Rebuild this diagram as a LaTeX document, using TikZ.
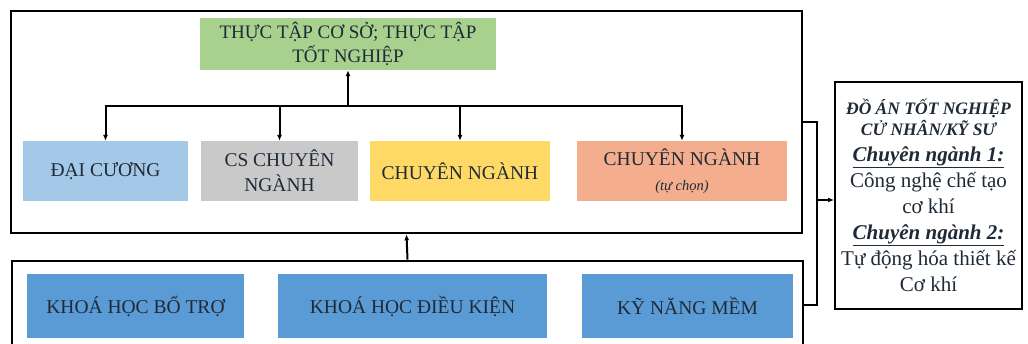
\documentclass[tikz,border=0pt]{standalone}
\usepackage{fontspec}
\setmainfont{Liberation Serif}
\usetikzlibrary{arrows.meta}
\definecolor{xanhla}{HTML}{A9D18E}
\definecolor{xanhnhat}{HTML}{A4C8E8}
\definecolor{xam}{HTML}{C9C9C9}
\definecolor{vang}{HTML}{FFD966}
\definecolor{cam}{HTML}{F4AE8E}
\definecolor{xanhdam}{HTML}{5B9BD5}
\definecolor{chu}{HTML}{1E2A36}
\newcommand{\tieude}{\fontsize{17.5}{20}\selectfont\bfseries\itshape}
\newcommand{\cnganh}[1]{\fontsize{21}{26}\selectfont\bfseries\itshape\underline{#1}}

\begin{document}
\begin{tikzpicture}[x=1pt,y=-1pt,
    khung/.style={draw,line width=2.6pt},
    hop/.style={align=center,text=chu,font=\fontsize{19.5}{25}\selectfont},
    noi/.style={line width=2pt,-{Latex[length=6pt,width=5pt]}}]
            \clip(0, 0)rectangle(1028, 344);
            \fill[white](0, 0)rectangle(1028, 344);
            % hai khung lon
            \node[khung, minimum width=791pt, minimum height=222pt](khungtren)at(406.5, 122){};
            \node[khung, minimum width=791pt, minimum height=88pt](khungduoi)at(407.5, 305){};
            % khung tren
            \node[hop, fill=xanhla, minimum width=296pt, minimum height=52pt, font=\fontsize{19}{24}\selectfont](tttn)at(348, 44){THỰC TẬP CƠ SỞ; THỰC TẬP\\TỐT NGHIỆP};
            \node[hop, fill=xanhnhat, minimum width=165pt, minimum height=60pt](daicuong)at(105.5, 171){ĐẠI CƯƠNG};
            \node[hop, fill=xam, minimum width=157pt, minimum height=60pt](cscn)at(279.5, 171){CS CHUYÊN\\NGÀNH};
            \node[hop, fill=vang, minimum width=180pt, minimum height=60pt](cn)at(460, 171){CHUYÊN NGÀNH};
            \node[hop, fill=cam, minimum width=210pt, minimum height=60pt](tuchon)at(682, 171){CHUYÊN NGÀNH\\{\fontsize{14.5}{17}\selectfont\itshape (tự chọn)}};
            % khung duoi
            \node[hop, fill=xanhdam, minimum width=217pt, minimum height=64pt](botro)at(135.5, 306){KHOÁ HỌC BỔ TRỢ};
            \node[hop, fill=xanhdam, minimum width=269pt, minimum height=64pt](dieukien)at(412.5, 306){KHOÁ HỌC ĐIỀU KIỆN};
            \node[hop, fill=xanhdam, minimum width=211pt, minimum height=64pt](kynang)at(687.5, 306){KỸ NĂNG MỀM};
            % do an
            \node[draw, line width=2pt, minimum width=187pt, minimum height=227pt, align=center, text=chu, font=\fontsize{21}{26}\selectfont](doan)at(928.5, 195.5){%
                \tieude ĐỒ ÁN TỐT NGHIỆP\\[-5pt]\tieude CỬ NHÂN/KỸ SƯ\\
                \cnganh{Chuyên ngành 1:}\\Công nghệ chế tạo\\cơ khí\\
                \cnganh{Chuyên ngành 2:}\\Tự động hóa thiết kế\\Cơ khí};
            % mui ten
            \coordinate(bus)at(348, 106);
            \draw[noi](bus)--(tttn.south);
            \draw[noi](bus)-|(daicuong.north);
            \draw[noi](bus)-|(cscn.north);
            \draw[noi](bus)-|(cn.north);
            \draw[noi](bus)-|(tuchon.north);
            \draw[noi](khungduoi.north)--(khungtren.south);
            \coordinate(moc)at(817, 200);
            \draw[line width=2pt](khungtren.east)-|(moc)|-(khungduoi.east);
            \draw[noi](moc)--(moc-|doan.west);
        \end{tikzpicture}
\end{document}
